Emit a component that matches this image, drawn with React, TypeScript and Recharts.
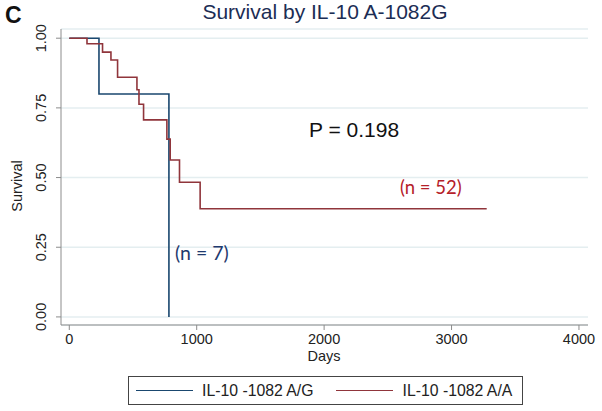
// Kaplan-Meier survival by IL-10 A-1082G genotype (Stata-style)

import { LineChart, Line, XAxis, YAxis, CartesianGrid } from 'recharts';

const agDays = [0, 233, 782];
const agSurvival = [1, 0.8, 0];

const aaDays = [0, 139, 261, 327, 379, 531, 547, 583, 766, 792, 865, 1027, 3276];
const aaSurvival = [1, 0.98, 0.95, 0.922, 0.86, 0.815, 0.763, 0.707, 0.638, 0.563, 0.483, 0.388, 0.388];

const xTicks = [0, 1000, 2000, 3000, 4000];
const yTicks = [0, 0.25, 0.5, 0.75, 1];

const seriesNames = ['IL-10 -1082 A/G', 'IL-10 -1082 A/A'];

const NAVY = '#1a476f';
const MAROON = '#90353b';
const FONT = 'Arial, "Liberation Sans", Helvetica, sans-serif';

const agData = agDays.map((d, i) => ({ day: d, s: agSurvival[i] }));
const aaData = aaDays.map((d, i) => ({ day: d, s: aaSurvival[i] }));

const YTick = ({ x, y, payload }: any) => (
  <g transform={`translate(${x},${y})`}>
    <text x={0} y={-10.5} transform="rotate(-90)" textAnchor="middle" fontSize={14.5} fill="#222" fontFamily={FONT}>
      {payload.value.toFixed(2)}
    </text>
  </g>
);

const XTick = ({ x, y, payload }: any) => (
  <text x={x} y={y + 12} textAnchor="middle" fontSize={14.5} fill="#222" fontFamily={FONT}>
    {payload.value}
  </text>
);

export default function App() {
  return (
    <div style={{ position: 'relative', width: 602, height: 411, background: '#fff', fontFamily: FONT }}>
      <style>{'body{margin:0}'}</style>
      <LineChart width={602} height={411} margin={{ top: 29, right: 14, left: 0, bottom: 56 }}>
        <CartesianGrid horizontal vertical={false} stroke="#e4eef0" strokeWidth={1.5} />
        <XAxis
          type="number"
          dataKey="day"
          domain={[-65, 4071]}
          ticks={xTicks}
          tick={<XTick />}
          tickSize={5}
          height={30}
          stroke="#8c8c8c"
          interval={0}
        />
        <YAxis
          type="number"
          domain={[-0.029, 1.033]}
          ticks={yTicks}
          tick={<YTick />}
          tickSize={5}
          tickMargin={0}
          width={61}
          stroke="#8c8c8c"
          interval={0}
        />
        <Line
          data={agData}
          dataKey="s"
          type="stepAfter"
          stroke={NAVY}
          strokeWidth={1.6}
          dot={false}
          isAnimationActive={false}
          name={seriesNames[0]}
        />
        <Line
          data={aaData}
          dataKey="s"
          type="stepAfter"
          stroke={MAROON}
          strokeWidth={1.6}
          dot={false}
          isAnimationActive={false}
          name={seriesNames[1]}
        />
      </LineChart>

      <div style={{ position: 'absolute', left: 5, top: 2, fontSize: 23, fontWeight: 'bold', color: '#111' }}>C</div>
      <div style={{ position: 'absolute', left: 0, width: 650, top: 0, textAlign: 'center', fontSize: 21, color: '#1c2d54' }}>
        Survival by IL-10 A-1082G
      </div>
      <div
        style={{
          position: 'absolute', left: 17, top: 186, fontSize: 14.5, color: '#222',
          transform: 'translate(-50%, -50%) rotate(-90deg)', whiteSpace: 'nowrap',
        }}
      >
        Survival
      </div>
      <div style={{ position: 'absolute', left: 274, width: 100, top: 348, textAlign: 'center', fontSize: 14.5, color: '#222' }}>
        Days
      </div>

      <div style={{ position: 'absolute', left: 309, top: 118, fontSize: 21, color: '#111' }}>P = 0.198</div>
      <div style={{ position: 'absolute', left: 400, top: 176, fontSize: 18.5, color: '#b52029', fontFamily: 'Lato, sans-serif' }}>
        (n = 52)
      </div>
      <div style={{ position: 'absolute', left: 175, top: 241, fontSize: 19.5, color: '#1f3a6e', fontFamily: 'Lato, sans-serif' }}>
        (n = 7)
      </div>

      <div
        style={{
          position: 'absolute', left: 128, top: 376, width: 393, height: 27, border: '1px solid #444',
          display: 'flex', alignItems: 'center', fontSize: 15.8, color: '#222',
        }}
      >
        <span style={{ display: 'inline-block', marginLeft: 7, width: 57, height: 0, borderTop: `1.6px solid ${NAVY}` }} />
        <span style={{ marginLeft: 9 }}>{seriesNames[0]}</span>
        <span style={{ display: 'inline-block', marginLeft: 22, width: 57, height: 0, borderTop: `1.6px solid ${MAROON}` }} />
        <span style={{ marginLeft: 10 }}>{seriesNames[1]}</span>
      </div>
    </div>
  );
}
